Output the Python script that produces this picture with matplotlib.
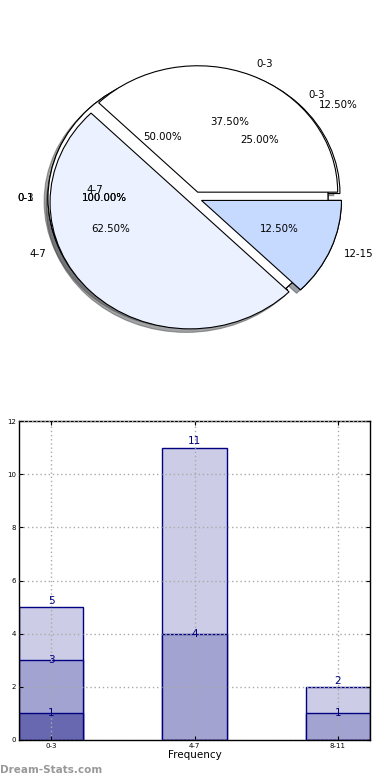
import matplotlib
matplotlib.use('Agg')
import matplotlib.pyplot as plt
import numpy as np

# ---- pie data ----
pie_a_values = [1]
pie_a_labels = ['0-3']
pie_a2_labels = ['0-1']
pie_c_values = [2, 5, 1]
pie_c_labels = ['0-3', '4-7', '12-15']
pie_e_values = [3, 4, 1]
pie_e_labels = ['0-3', '4-7', '12-15']
pie_colors = ['#FFFFFF', '#EBF1FF', '#C6D9FF']

# ---- bar data ----
bar_categories = ['0-3', '4-7', '8-11']
bar_light = [5, 11, 2]
bar_medium = [3, 4, 1]
bar_dark = [1, 0, 0]
bar_colors = ['#CCCCE6', '#A3A3D2', '#6868B0']

fig = plt.figure(figsize=(3.9, 7.8), dpi=100)

# ---------------- pie axes ----------------
ax1 = fig.add_axes([20 / 390, 1 - 356 / 780, 350 / 390, 316 / 780])
wp = {'edgecolor': 'black', 'linewidth': 0.8}
tp = {'fontsize': 7.4}

def expl(vals):
    return [0.05] * len(vals)

ax1.pie(pie_c_values, labels=pie_c_labels, colors=pie_colors, explode=expl(pie_c_values),
        autopct='%1.2f%%', shadow=False, wedgeprops=wp, textprops=tp)
ax1.pie(pie_a_values, labels=pie_a_labels, colors=pie_colors, explode=expl(pie_a_values),
        autopct='%1.2f%%', shadow=True, wedgeprops=wp, textprops=tp)
ax1.pie(pie_a_values, labels=pie_a2_labels, colors=pie_colors, explode=expl(pie_a_values),
        autopct='%1.2f%%', shadow=False, wedgeprops=wp, textprops=tp)
_, te, ae = ax1.pie(pie_e_values, labels=pie_e_labels, colors=pie_colors, explode=expl(pie_e_values),
                    autopct='%1.2f%%', shadow=True, wedgeprops=wp, textprops=tp)
for t in list(te[1:]) + list(ae[1:]):
    t.set_visible(False)
# displaced duplicate pie (only its texts show)
_, td, ad = ax1.pie(pie_e_values, labels=pie_e_labels, explode=expl(pie_e_values),
                    autopct='%1.2f%%', center=(0.316, 1.03), radius=1.2,
                    wedgeprops={'visible': False}, textprops=tp)
for t in (td[0], td[2], ad[0]):
    t.set_visible(False)

ax1.set_aspect('auto')
ax1.set_xlim(-1.25, 1.25)
ax1.set_ylim(-1.25, 1.25)
ax1.axis('off')

# ---------------- bar axes ----------------
ax2 = fig.add_axes([19 / 390, 1 - 740 / 780, 351 / 390, 319 / 780])
x = np.arange(len(bar_categories))
width = 0.45
for vals, col in zip([bar_light, bar_medium, bar_dark], bar_colors):
    ax2.bar(x, vals, width, color=col, edgecolor='navy', linewidth=1)

for xi, v in zip(x, bar_light):
    ax2.text(xi, v + 0.05, str(v), ha='center', va='bottom', color='navy', fontsize=7.5)
for series in (bar_medium, bar_dark):
    for xi, v in zip(x, series):
        if v > 0:
            ax2.text(xi, v, str(v), ha='center', va='center', color='navy', fontsize=7.5)

ax2.set_xlim(-width / 2, len(x) - 1 + width / 2)
ax2.set_ylim(0, 12)
ax2.set_yticks(np.arange(0, 13, 2))
ax2.set_xticks(x)
ax2.set_xticklabels(bar_categories)
ax2.grid(True, linestyle=(0, (1, 2)), color='#aaaaaa', linewidth=1)
ax2.set_axisbelow(False)
ax2.tick_params(direction='in', top=True, right=True, labelsize=5, length=3, pad=2)
ax2.set_xlabel('Frequency', fontsize=7.5, labelpad=1)
for s in ax2.spines.values():
    s.set_linewidth(1)

fig.text(0.0, 1 - 770 / 780, 'Dream-Stats.com', fontsize=7.5, color='#999999',
         weight='bold', ha='left', va='center')

fig.savefig('out.png', dpi=100)
